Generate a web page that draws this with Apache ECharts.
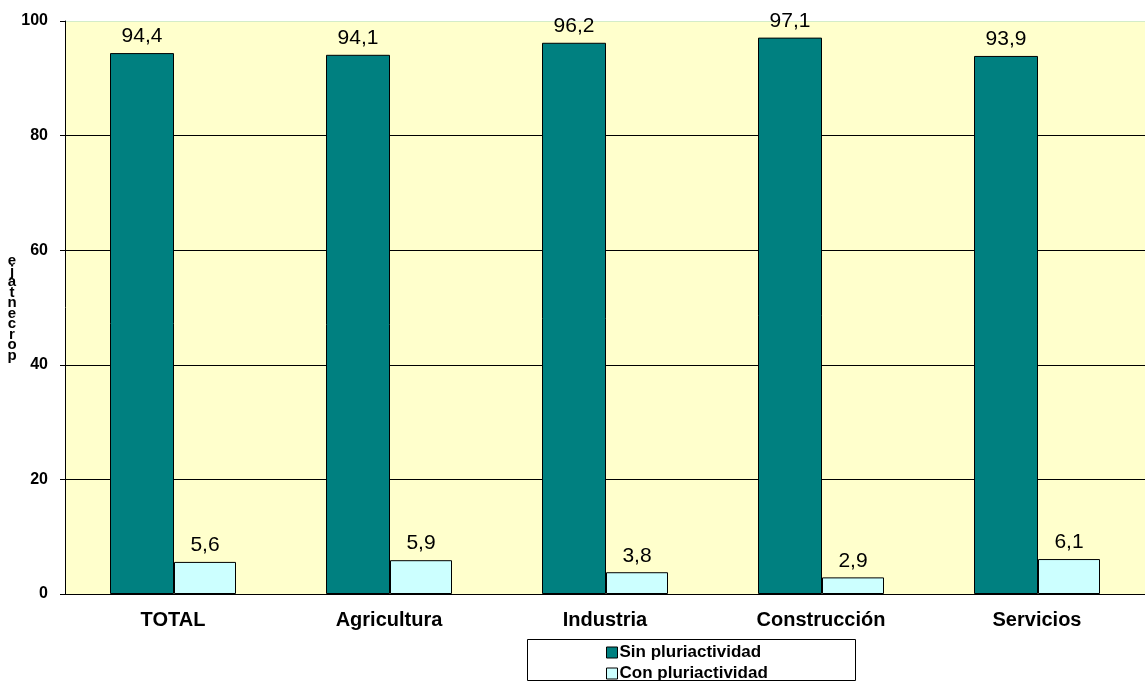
<!DOCTYPE html>
<html><head><meta charset="utf-8">
<script src="https://cdn.jsdelivr.net/npm/echarts@6/dist/echarts.min.js"></script>
<style>html,body{margin:0;padding:0;background:#fff}#c{width:1145px;height:682px}</style>
</head><body><div id="c"></div>
<script>
const categories = ['TOTAL', 'Agricultura', 'Industria', 'Construcción', 'Servicios'];
const sinPluri = [94.4, 94.1, 96.2, 97.1, 93.9];
const conPluri = [5.6, 5.9, 3.8, 2.9, 6.1];
const seriesNames = ['Sin pluriactividad', 'Con pluriactividad'];
const yTicks = [0, 20, 40, 60, 80, 100];
const yAxisTitle = 'porcentaje';

const FONT = '"Liberation Sans", Arial, sans-serif';
const chart = echarts.init(document.getElementById('c'));
const lbl = {
  show: true, position: 'top', distance: 6, color: '#000',
  fontFamily: FONT, fontSize: 21,
  formatter: p => p.value.toFixed(1).replace('.', ',')
};
const legendText = { color: '#000', fontFamily: FONT, fontWeight: 'bold', fontSize: 17, padding: [0, 0, 0, -3] };
chart.setOption({
  animation: false,
  backgroundColor: '#fff',
  grid: { left: 65, right: 0, top: 21, bottom: 88, show: true, backgroundColor: '#FFFFCC', borderWidth: 0 },
  xAxis: {
    type: 'category', data: categories,
    axisLine: { lineStyle: { color: '#000', width: 1 } },
    axisTick: { show: false },
    axisLabel: { color: '#000', fontFamily: FONT, fontWeight: 'bold', fontSize: 20, margin: 16 }
  },
  yAxis: {
    type: 'value', min: yTicks[0], max: yTicks[yTicks.length - 1], interval: 20,
    axisLine: { show: true, lineStyle: { color: '#000' } },
    axisTick: { show: true, length: 5, lineStyle: { color: '#000' } },
    splitLine: { show: true, lineStyle: { color: ['#000', '#000', '#000', '#000', '#000', '#d4ecc8'], width: 1 } },
    axisLabel: { color: '#000', fontFamily: FONT, fontWeight: 'bold', fontSize: 16, margin: 17 }
  },
  legend: [
    { data: [seriesNames[0]], left: 606, top: 644, itemWidth: 11, itemHeight: 11, icon: 'rect', padding: 0,
      textStyle: legendText, itemStyle: { borderColor: '#000', borderWidth: 1 } },
    { data: [seriesNames[1]], left: 606, top: 665, itemWidth: 11, itemHeight: 11, icon: 'rect', padding: 0,
      textStyle: legendText, itemStyle: { borderColor: '#000', borderWidth: 1 } }
  ],
  graphic: [
    { type: 'rect', shape: { x: 527.5, y: 639.5, width: 328, height: 41 }, style: { fill: '#fff', stroke: '#000', lineWidth: 1 }, z: -1 },
    { type: 'text', x: 12, y: 256, style: { text: yAxisTitle.split('').reverse().join('\n'), font: 'bold 15px ' + FONT, lineHeight: 10.5, fill: '#000', align: 'center' } }
  ],
  series: [
    { name: seriesNames[0], type: 'bar', data: sinPluri, barWidth: 64, barGap: '0%',
      itemStyle: { color: '#008080', borderColor: '#000', borderWidth: 1 }, label: lbl },
    { name: seriesNames[1], type: 'bar', data: conPluri, barWidth: 62,
      itemStyle: { color: '#CCFFFF', borderColor: '#000', borderWidth: 1 }, label: lbl }
  ]
});
</script></body></html>
